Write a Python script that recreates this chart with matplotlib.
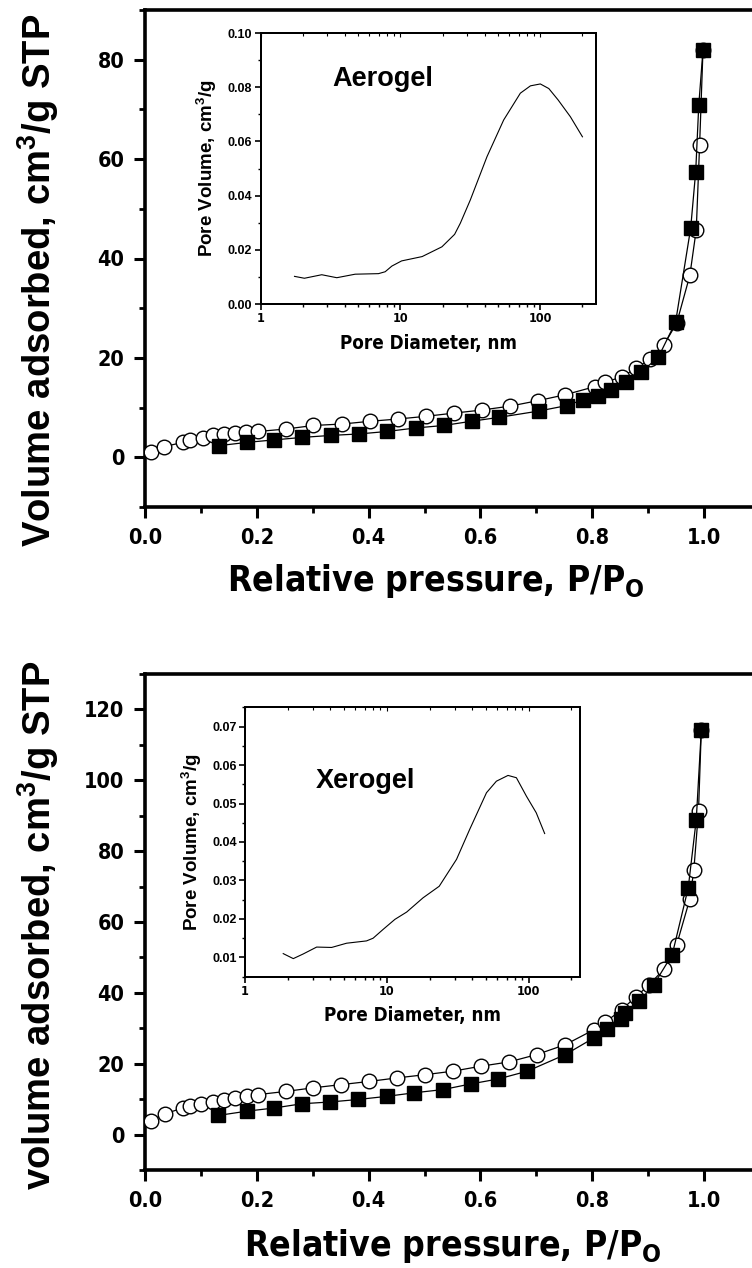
import matplotlib
matplotlib.use("Agg")
import matplotlib.pyplot as plt
from matplotlib.font_manager import FontProperties
from matplotlib.ticker import MultipleLocator, FixedLocator, NullFormatter, FuncFormatter

# ---- isotherm data ----
aero_ads_p = [0.011, 0.034, 0.068, 0.081, 0.103, 0.122, 0.141, 0.161, 0.181, 0.203, 0.253,
              0.301, 0.353, 0.403, 0.452, 0.503, 0.553, 0.602, 0.653, 0.703, 0.752, 0.804,
              0.823, 0.853, 0.878, 0.904, 0.928, 0.951, 0.9745, 0.986, 0.992, 0.998]
aero_ads_v = [1.0, 2.15, 3.0, 3.5, 3.8, 4.4, 4.6, 4.8, 5.0, 5.2, 5.7, 6.4, 6.7, 7.25, 7.7,
              8.25, 8.9, 9.5, 10.3, 11.4, 12.6, 14.2, 15.1, 16.2, 17.9, 19.8, 22.6, 27.0,
              36.6, 45.8, 62.9, 81.9]
aero_des_p = [0.133, 0.182, 0.231, 0.281, 0.332, 0.383, 0.433, 0.484, 0.534, 0.584, 0.634,
              0.704, 0.754, 0.784, 0.810, 0.833, 0.861, 0.887, 0.918, 0.949, 0.976, 0.985,
              0.9905, 0.998]
aero_des_v = [2.35, 3.0, 3.5, 4.0, 4.4, 4.7, 5.2, 5.9, 6.4, 7.25, 8.05, 9.3, 10.4, 11.6,
              12.4, 13.6, 15.1, 17.1, 20.1, 27.2, 46.1, 57.5, 70.9, 81.9]

xero_ads_p = [0.011, 0.036, 0.068, 0.081, 0.101, 0.122, 0.141, 0.161, 0.182, 0.203, 0.253,
              0.301, 0.351, 0.401, 0.451, 0.501, 0.551, 0.601, 0.651, 0.701, 0.752, 0.803,
              0.823, 0.853, 0.878, 0.902, 0.928, 0.951, 0.9745, 0.9816, 0.990, 0.995]
xero_ads_v = [3.95, 5.9, 7.5, 8.0, 8.7, 9.2, 9.7, 10.35, 11.0, 11.3, 12.2, 13.2, 14.1, 15.0,
              16.0, 16.9, 17.9, 19.3, 20.5, 22.6, 25.4, 29.6, 31.7, 35.3, 38.9, 42.3, 46.7,
              53.6, 66.5, 74.6, 91.3, 114.1]
xero_des_p = [0.131, 0.182, 0.231, 0.281, 0.331, 0.381, 0.433, 0.482, 0.533, 0.583, 0.632,
              0.684, 0.752, 0.803, 0.827, 0.851, 0.859, 0.884, 0.910, 0.943, 0.9716, 0.986,
              0.995]
xero_des_v = [5.4, 6.6, 7.5, 8.7, 9.2, 9.9, 10.8, 11.8, 12.7, 14.3, 15.7, 17.9, 22.6, 27.3,
              29.8, 32.7, 34.2, 37.6, 42.3, 50.8, 69.6, 88.9, 114.1]

# ---- pore size distributions (insets) ----
aero_d = [1.75, 2.06, 2.74, 3.51, 4.75, 6.97, 7.78, 8.69, 10.2, 14.3, 19.8, 24.4, 26.8,
          31.6, 41.6, 54.7, 72, 85, 100, 115, 134, 164, 200]
aero_pv = [0.0102, 0.0095, 0.0108, 0.0097, 0.0110, 0.0112, 0.0119, 0.0140, 0.0159, 0.0175,
           0.0211, 0.0257, 0.0298, 0.0384, 0.0544, 0.0679, 0.0778, 0.0805, 0.0812, 0.0795,
           0.0753, 0.0691, 0.0617]
xero_d = [1.86, 2.19, 2.57, 3.20, 4.08, 5.20, 7.19, 8.0, 9.42, 11.4, 13.8, 18.0, 23.4, 31,
          38.4, 50.4, 59.2, 71.5, 81.9, 96.4, 113, 129.6]
xero_pv = [0.0110, 0.0097, 0.0109, 0.0127, 0.0126, 0.0137, 0.0143, 0.0150, 0.0173, 0.0199,
           0.0218, 0.0255, 0.0285, 0.0355, 0.0433, 0.0528, 0.0558, 0.0573, 0.0567, 0.0519,
           0.0476, 0.0422]

WIDE = ["Liberation Sans", "DejaVu Sans"]
COND = dict(family=["DejaVu Sans"], stretch="condensed", weight="bold")

fig = plt.figure(figsize=(7.52, 12.68), dpi=100)


def main_panel(rect, ylim, yticks, ads_p, ads_v, des_p, des_v):
    ax = fig.add_axes(rect)
    ax.plot(ads_p, ads_v, color="black", lw=0.9, marker="o", ms=10.5,
            mfc="white", mec="black", mew=1.0, zorder=3)
    ax.plot(des_p, des_v, color="black", lw=0.9, marker="s", ms=9.5,
            mfc="black", mec="black", zorder=4)
    ax.set_xlim(0, 1.1)
    ax.set_ylim(*ylim)
    ax.xaxis.set_major_locator(MultipleLocator(0.2))
    ax.xaxis.set_minor_locator(MultipleLocator(0.1))
    ax.yaxis.set_major_locator(FixedLocator(yticks))
    ax.yaxis.set_minor_locator(MultipleLocator(10))
    ax.xaxis.set_major_formatter(FuncFormatter(lambda v, p: f"{v:.1f}"))
    for s in ax.spines.values():
        s.set_linewidth(2.6)
    ax.tick_params(which="major", direction="out", length=8, width=2.2, pad=7)
    ax.tick_params(which="minor", direction="out", length=4.5, width=2.0)
    ax.tick_params(top=False, right=False)
    for lab in ax.get_xticklabels() + ax.get_yticklabels():
        lab.set_fontproperties(FontProperties(size=15.5, **COND))
    return ax


def inset_panel(rect, xlim, ylim, ymaj, ymin, d, pv, name, name_xy, yfmt):
    ax = fig.add_axes(rect)
    ax.plot(d, pv, color="black", lw=0.8)
    ax.set_xscale("log")
    ax.set_xlim(*xlim)
    ax.set_ylim(*ylim)
    ax.yaxis.set_major_locator(FixedLocator(ymaj))
    ax.yaxis.set_minor_locator(MultipleLocator(ymin))
    ax.yaxis.set_major_formatter(FuncFormatter(lambda v, p: yfmt.format(v)))
    ax.xaxis.set_major_formatter(FuncFormatter(lambda v, p: f"{v:g}"))
    ax.xaxis.set_minor_formatter(NullFormatter())
    for s in ax.spines.values():
        s.set_linewidth(1.4)
    ax.tick_params(which="major", direction="out", length=4, width=1.2, pad=2)
    ax.tick_params(which="minor", direction="out", length=2.5, width=1.0)
    for lab in ax.get_xticklabels():
        lab.set_fontproperties(FontProperties(size=9, **COND))
    for lab in ax.get_yticklabels():
        lab.set_fontweight("bold")
        lab.set_fontsize(9)
        lab.set_family(WIDE)
    ax.set_ylabel(r"Pore Volume, cm$\mathregular{^3}$/g", fontsize=13.5,
                  fontweight="bold", family=WIDE, labelpad=6)
    ax.set_xlabel("Pore Diameter, nm", fontsize=13.5, labelpad=6, **COND)
    ax.text(name_xy[0], name_xy[1], name, transform=ax.transAxes, fontsize=19.5,
            fontweight="bold", family=WIDE, ha="left", va="center")
    # small inward ticks along the top edge
    top = ax.twiny()
    top.set_xscale("log")
    top.set_xlim(*xlim)
    top.tick_params(which="both", direction="in", labeltop=False, width=0.8)
    top.tick_params(which="major", length=3)
    top.tick_params(which="minor", length=2)
    top.xaxis.set_minor_formatter(NullFormatter())
    for s in top.spines.values():
        s.set_linewidth(1.4)
    return ax


H = 1268.0
W = 752.0

# top panel (aerogel)
main_panel([145 / W, 1 - 507 / H, 615 / W, 497 / H], (-10, 90), [0, 20, 40, 60, 80],
           aero_ads_p, aero_ads_v, aero_des_p, aero_des_v)
inset_panel([260.5 / W, 1 - 304 / H, 335.5 / W, 271 / H], (1, 250), (0, 0.10),
            [0.0, 0.02, 0.04, 0.06, 0.08, 0.10], 0.01, aero_d, aero_pv,
            "Aerogel", (0.215, 0.83), "{:.2f}")

# bottom panel (xerogel)
main_panel([145 / W, 1 - 1170 / H, 615 / W, 496 / H], (-10, 130), [0, 20, 40, 60, 80, 100, 120],
           xero_ads_p, xero_ads_v, xero_des_p, xero_des_v)
inset_panel([245 / W, 1 - 976.7 / H, 335 / W, 269.4 / H], (1, 230), (0.005, 0.075),
            [0.01, 0.02, 0.03, 0.04, 0.05, 0.06, 0.07], 0.005, xero_d, xero_pv,
            "Xerogel", (0.21, 0.725), "{:.2f}")

# axis titles
fig.text(38 / W, 1 - 280 / H, r"Volume adsorbed, cm$\mathregular{^3}$/g STP", rotation=90,
         ha="center", va="center", fontsize=27.5, fontweight="bold", family=WIDE)
fig.text(38 / W, 1 - 925 / H, r"volume adsorbed, cm$\mathregular{^3}$/g STP", rotation=90,
         ha="center", va="center", fontsize=27.5, fontweight="bold", family=WIDE)
fig.text(436 / W, 1 - 581 / H, r"Relative pressure, P/P$\mathregular{_O}$",
         ha="center", va="center", fontsize=25.5, **COND)
fig.text(453 / W, 1 - 1246 / H, r"Relative pressure, P/P$\mathregular{_O}$",
         ha="center", va="center", fontsize=25.5, **COND)

fig.savefig("out.png", dpi=100)
